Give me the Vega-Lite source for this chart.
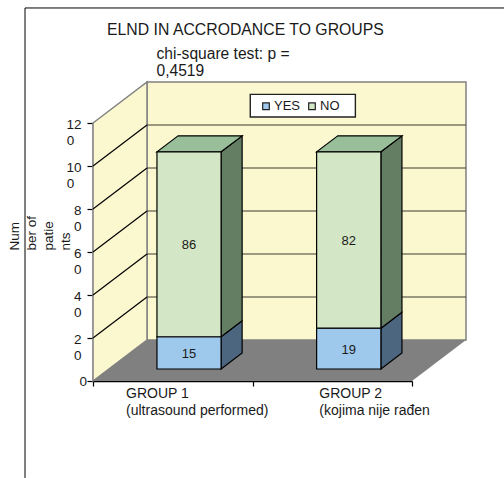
{
  "$schema": "https://vega.github.io/schema/vega-lite/v6.json",
  "width": 319,
  "height": 258,
  "padding": {"left": 93, "top": 123, "right": 92, "bottom": 97},
  "autosize": "none",
  "background": "white",
  "config": {"view": {"stroke": null}, "font": "Liberation Sans", "text": {"font": "Liberation Sans", "color": "#1a1a1a"}},
  "datasets": {
    "segments": [
      {"group": "GROUP 1", "answer": "YES", "count": 15, "from": 0, "to": 15, "mid": 7.5, "left": 0.401, "center": 0.602, "right": 0.803},
      {"group": "GROUP 1", "answer": "NO", "count": 86, "from": 15, "to": 101, "mid": 58, "left": 0.401, "center": 0.602, "right": 0.803},
      {"group": "GROUP 2", "answer": "YES", "count": 19, "from": 0, "to": 19, "mid": 9.5, "left": 1.402, "center": 1.6035, "right": 1.805},
      {"group": "GROUP 2", "answer": "NO", "count": 82, "from": 19, "to": 101, "mid": 60, "left": 1.402, "center": 1.6035, "right": 1.805}
    ],
    "sides": [
      {"seg": "1-YES", "answer": "YES", "x": 0.803, "low": 0, "high": 15},
      {"seg": "1-YES", "answer": "YES", "x": 0.935, "low": 7.44, "high": 22.44},
      {"seg": "1-NO", "answer": "NO", "x": 0.803, "low": 15, "high": 101},
      {"seg": "1-NO", "answer": "NO", "x": 0.935, "low": 22.44, "high": 108.44},
      {"seg": "2-YES", "answer": "YES", "x": 1.805, "low": 0, "high": 19},
      {"seg": "2-YES", "answer": "YES", "x": 1.937, "low": 7.44, "high": 26.44},
      {"seg": "2-NO", "answer": "NO", "x": 1.805, "low": 19, "high": 101},
      {"seg": "2-NO", "answer": "NO", "x": 1.937, "low": 26.44, "high": 108.44}
    ],
    "tops": [
      {"group": "GROUP 1", "y": 101, "x": 0.401, "x2": 0.803},
      {"group": "GROUP 1", "y": 108.44, "x": 0.533, "x2": 0.935},
      {"group": "GROUP 2", "y": 101, "x": 1.402, "x2": 1.805},
      {"group": "GROUP 2", "y": 108.44, "x": 1.534, "x2": 1.937}
    ],
    "sideGrid": [
      {"tick": 20, "x": 0, "y": 20}, {"tick": 20, "x": 0.3386, "y": 39.07},
      {"tick": 40, "x": 0, "y": 40}, {"tick": 40, "x": 0.3386, "y": 59.07},
      {"tick": 60, "x": 0, "y": 60}, {"tick": 60, "x": 0.3386, "y": 79.07},
      {"tick": 80, "x": 0, "y": 80}, {"tick": 80, "x": 0.3386, "y": 99.07},
      {"tick": 100, "x": 0, "y": 100}, {"tick": 100, "x": 0.3386, "y": 119.07}
    ],
    "backGrid": [
      {"tick": 20, "y": 39.07}, {"tick": 40, "y": 59.07}, {"tick": 60, "y": 79.07},
      {"tick": 80, "y": 99.07}, {"tick": 100, "y": 119.07}
    ],
    "tickLabels": [
      {"text": "12", "x": -0.072, "y": 119.07},
      {"text": "0", "x": -0.118, "y": 111.63},
      {"text": "10", "x": -0.072, "y": 99.07},
      {"text": "0", "x": -0.118, "y": 91.63},
      {"text": "8", "x": -0.072, "y": 79.07},
      {"text": "0", "x": -0.072, "y": 71.63},
      {"text": "6", "x": -0.072, "y": 59.07},
      {"text": "0", "x": -0.072, "y": 51.63},
      {"text": "4", "x": -0.072, "y": 39.07},
      {"text": "0", "x": -0.072, "y": 31.63},
      {"text": "2", "x": -0.072, "y": 19.07},
      {"text": "0", "x": -0.072, "y": 11.63},
      {"text": "0", "x": -0.038, "y": -0.47}
    ],
    "headings": [
      {"text": "chi-square test: p =", "x": 0.398, "y": 152.1},
      {"text": "0,4519", "x": 0.398, "y": 144.2}
    ],
    "groupCaptions": [
      {"text": "GROUP 1", "x": 0.207, "y": -5.9},
      {"text": "(ultrasound performed)", "x": 0.207, "y": -13.95},
      {"text": "GROUP 2", "x": 1.419, "y": -5.9},
      {"text": "(kojima nije rađen", "x": 1.419, "y": -13.95}
    ]
  },
  "layer": [
    {
      "data": {"values": [{"x": -0.4263, "y": 173.5, "y2": -45.1}]},
      "mark": {"type": "rule", "color": "black", "strokeWidth": 1},
      "encoding": {
        "x": {"field": "x", "type": "quantitative", "scale": {"domain": [0, 2], "nice": false, "zero": false}, "axis": {"values": [0, 1, 2], "labels": false, "title": null, "grid": false, "domainColor": "black", "domainWidth": 1.3, "tickColor": "black", "tickSize": 5, "tickWidth": 1.2}},
        "y": {"field": "y", "type": "quantitative", "scale": {"domain": [0, 120], "nice": false, "zero": false}, "axis": {
          "values": [0, 20, 40, 60, 80, 100, 120],
          "grid": false,
          "labels": false,
          "domainColor": "black", "domainWidth": 1.3, "tickColor": "black", "tickSize": 6, "tickWidth": 1.2,
          "title": ["Num", "ber of", "patie", "nts"],
          "titleFontSize": 13.5, "titleFontWeight": "normal", "titleColor": "#1a1a1a", "titleAngle": 270, "titleLineHeight": 17, "titleAlign": "left", "titleBaseline": "middle", "titleX": -79, "titleY": 127
        }},
        "y2": {"field": "y2"}
      }
    },
    {
      "data": {"values": [{"x": -0.4263, "x2": 2.577, "y": 173.5}]},
      "mark": {"type": "rule", "color": "black", "strokeWidth": 1},
      "encoding": {"x": {"field": "x", "type": "quantitative"}, "x2": {"field": "x2"}, "y": {"field": "y", "type": "quantitative"}}
    },
    {
      "data": {"values": [{"x": 0.3386, "x2": 2.3386, "y": 19.07, "y2": 139.07}]},
      "mark": {"type": "rect", "fill": "#FBF8D0", "stroke": "#808080", "strokeWidth": 1.5},
      "encoding": {"x": {"field": "x", "type": "quantitative"}, "x2": {"field": "x2"}, "y": {"field": "y", "type": "quantitative"}, "y2": {"field": "y2"}}
    },
    {
      "data": {"values": [{"x": 0, "y": 0, "y2": 120}, {"x": 0.3386, "y": 19.07, "y2": 139.07}]},
      "mark": {"type": "area", "fill": "#FBF8D0", "stroke": "#808080", "strokeWidth": 1.5},
      "encoding": {"x": {"field": "x", "type": "quantitative"}, "y": {"field": "y", "type": "quantitative"}, "y2": {"field": "y2"}}
    },
    {
      "data": {"values": [{"y": 0, "x": 0, "x2": 2}, {"y": 19.07, "x": 0.3386, "x2": 2.3386}]},
      "mark": {"type": "area", "orient": "horizontal", "fill": "#808080"},
      "encoding": {"y": {"field": "y", "type": "quantitative"}, "x": {"field": "x", "type": "quantitative"}, "x2": {"field": "x2"}}
    },
    {
      "data": {"name": "backGrid"},
      "mark": {"type": "rule", "color": "#3d3d30", "strokeWidth": 1.2},
      "encoding": {"y": {"field": "y", "type": "quantitative"}, "x": {"datum": 0.3386, "type": "quantitative"}, "x2": {"datum": 2.3386}}
    },
    {
      "data": {"name": "sideGrid"},
      "mark": {"type": "line", "color": "black", "strokeWidth": 1.2},
      "encoding": {"x": {"field": "x", "type": "quantitative"}, "y": {"field": "y", "type": "quantitative"}, "detail": {"field": "tick"}}
    },
    {
      "data": {"values": [{"x": 0.986, "x2": 1.645, "y": 133.3, "y2": 122.8}]},
      "mark": {"type": "rect", "fill": "white", "stroke": "#222222", "strokeWidth": 1.4},
      "encoding": {"x": {"field": "x", "type": "quantitative"}, "x2": {"field": "x2"}, "y": {"field": "y", "type": "quantitative"}, "y2": {"field": "y2"}}
    },
    {
      "data": {"name": "sides"},
      "mark": {"type": "area", "stroke": "black", "strokeWidth": 1.2, "yOffset": -12, "y2Offset": -12},
      "encoding": {
        "x": {"field": "x", "type": "quantitative"},
        "y": {"field": "low", "type": "quantitative"},
        "y2": {"field": "high"},
        "detail": {"field": "seg"},
        "fill": {"field": "answer", "type": "nominal", "scale": {"domain": ["YES", "NO"], "range": ["#4D6680", "#647E64"]}, "legend": null}
      }
    },
    {
      "data": {"name": "tops"},
      "mark": {"type": "area", "orient": "horizontal", "fill": "#98BF9A", "stroke": "black", "strokeWidth": 1.2, "yOffset": -12},
      "encoding": {
        "y": {"field": "y", "type": "quantitative"},
        "x": {"field": "x", "type": "quantitative"},
        "x2": {"field": "x2"},
        "detail": {"field": "group"}
      }
    },
    {
      "data": {"name": "segments"},
      "mark": {"type": "rect", "stroke": "black", "strokeWidth": 1.2, "yOffset": -12, "y2Offset": -12},
      "encoding": {
        "x": {"field": "left", "type": "quantitative"},
        "x2": {"field": "right"},
        "y": {"field": "from", "type": "quantitative"},
        "y2": {"field": "to"},
        "fill": {"field": "answer", "type": "nominal", "scale": {"domain": ["YES", "NO"], "range": ["#9FC9EC", "#D3E6C5"]}, "legend": {
          "orient": "none", "legendX": 166.5, "legendY": -23.5, "direction": "horizontal", "title": null,
          "symbolType": "square", "symbolSize": 44, "symbolStrokeColor": "#222222", "symbolStrokeWidth": 1.2,
          "labelFontSize": 13, "labelColor": "#1a1a1a", "labelOffset": 1.5, "columnPadding": 5, "padding": 0
        }}
      }
    },
    {
      "data": {"name": "segments"},
      "mark": {"type": "text", "fontSize": 13, "yOffset": -11},
      "encoding": {
        "x": {"field": "center", "type": "quantitative"},
        "y": {"field": "mid", "type": "quantitative"},
        "text": {"field": "count", "type": "quantitative"}
      }
    },
    {
      "data": {"name": "tickLabels"},
      "mark": {"type": "text", "fontSize": 13.5, "align": "right", "baseline": "middle"},
      "encoding": {"x": {"field": "x", "type": "quantitative"}, "y": {"field": "y", "type": "quantitative"}, "text": {"field": "text"}}
    },
    {
      "data": {"values": [{"text": "ELND IN ACCRODANCE TO GROUPS", "x": 0.088, "y": 163.3}]},
      "mark": {"type": "text", "fontSize": 15.8, "align": "left", "baseline": "middle"},
      "encoding": {"x": {"field": "x", "type": "quantitative"}, "y": {"field": "y", "type": "quantitative"}, "text": {"field": "text"}}
    },
    {
      "data": {"name": "headings"},
      "mark": {"type": "text", "fontSize": 15.6, "align": "left", "baseline": "middle"},
      "encoding": {"x": {"field": "x", "type": "quantitative"}, "y": {"field": "y", "type": "quantitative"}, "text": {"field": "text"}}
    },
    {
      "data": {"name": "groupCaptions"},
      "mark": {"type": "text", "fontSize": 14, "align": "left", "baseline": "middle"},
      "encoding": {"x": {"field": "x", "type": "quantitative"}, "y": {"field": "y", "type": "quantitative"}, "text": {"field": "text"}}
    }
  ],
  "resolve": {"scale": {"fill": "independent"}}
}
